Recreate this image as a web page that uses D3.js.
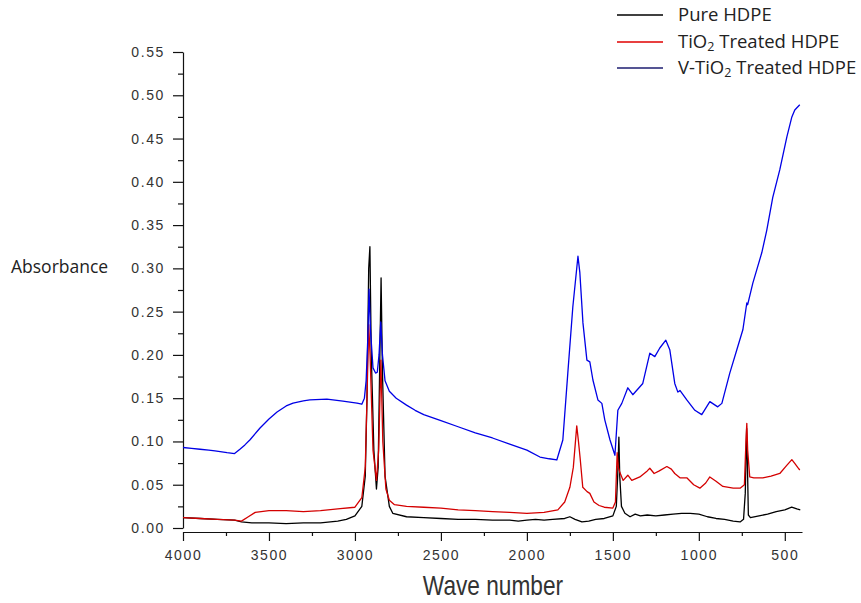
<!DOCTYPE html>
<html>
<head>
<meta charset="utf-8">
<script src="https://cdn.jsdelivr.net/npm/d3@7"></script>
<style>
  html, body { margin: 0; padding: 0; background: #fff; }
  svg { display: block; }
</style>
</head>
<body>
<svg id="chart" width="861" height="603"></svg>
<script>
// ---------------- DATA ----------------
const seriesNames = ["Pure HDPE", "TiO2 Treated HDPE", "V-TiO2 Treated HDPE"];

const pureWave = [4000,3900,3800,3700,3660,3600,3500,3400,3300,3200,3100,3050,3000,2960,2940,2930,2920,2913,2905,2890,2875,2865,2855,2848,2840,2825,2800,2780,2700,2600,2500,2400,2300,2200,2100,2050,2000,1950,1900,1850,1780,1750,1720,1680,1640,1600,1550,1500,1480,1472,1465,1460,1450,1430,1400,1370,1340,1300,1250,1200,1150,1100,1050,1000,950,900,850,800,760,740,730,722,718,712,700,650,600,550,500,460,430,410];
const pureAbs  = [0.012,0.011,0.010,0.009,0.007,0.006,0.006,0.005,0.006,0.006,0.008,0.010,0.014,0.025,0.060,0.150,0.300,0.325,0.200,0.090,0.045,0.070,0.200,0.289,0.180,0.060,0.025,0.017,0.013,0.012,0.011,0.010,0.010,0.009,0.009,0.008,0.009,0.010,0.009,0.010,0.011,0.013,0.010,0.007,0.008,0.010,0.011,0.014,0.025,0.060,0.105,0.060,0.025,0.017,0.013,0.016,0.014,0.015,0.014,0.015,0.016,0.017,0.017,0.016,0.013,0.011,0.010,0.008,0.007,0.010,0.040,0.115,0.080,0.015,0.012,0.014,0.016,0.019,0.021,0.024,0.022,0.021];

const tio2Wave = [4000,3900,3800,3700,3660,3620,3580,3500,3400,3300,3200,3100,3000,2960,2940,2930,2920,2912,2895,2875,2862,2849,2838,2820,2800,2770,2700,2600,2500,2400,2300,2200,2100,2000,1900,1820,1780,1750,1730,1710,1700,1690,1675,1650,1634,1610,1580,1550,1500,1485,1475,1468,1459,1440,1413,1390,1343,1300,1285,1260,1230,1186,1160,1140,1110,1070,1030,994,960,936,900,860,800,760,735,726,721,716,704,680,628,580,529,490,459,440,425,413];
const tio2Abs  = [0.012,0.011,0.010,0.009,0.008,0.013,0.018,0.020,0.020,0.019,0.020,0.022,0.024,0.035,0.070,0.150,0.235,0.200,0.090,0.055,0.090,0.194,0.100,0.045,0.032,0.027,0.025,0.024,0.023,0.021,0.020,0.019,0.018,0.017,0.018,0.021,0.030,0.047,0.070,0.118,0.100,0.080,0.047,0.042,0.040,0.030,0.026,0.024,0.023,0.030,0.087,0.070,0.064,0.055,0.061,0.055,0.059,0.066,0.069,0.063,0.066,0.071,0.068,0.063,0.058,0.058,0.050,0.046,0.052,0.059,0.054,0.048,0.046,0.046,0.050,0.100,0.121,0.090,0.059,0.058,0.058,0.060,0.063,0.072,0.079,0.074,0.070,0.067];

const vWave = [4000,3950,3901,3850,3814,3744,3700,3669,3640,3610,3552,3500,3453,3400,3360,3300,3262,3163,3070,2988,2960,2945,2935,2925,2918,2910,2895,2880,2870,2860,2850,2840,2825,2800,2760,2700,2650,2600,2500,2400,2300,2200,2100,2000,1924,1870,1826,1791,1762,1733,1703,1692,1674,1651,1634,1616,1587,1564,1547,1517,1488,1471,1448,1413,1384,1326,1285,1256,1227,1192,1169,1140,1122,1110,1070,1023,983,936,890,866,820,779,744,721,716,686,634,605,570,529,488,459,442,413];
const vAbs  = [0.093,0.092,0.091,0.090,0.089,0.087,0.086,0.091,0.096,0.102,0.1155,0.126,0.134,0.141,0.1444,0.147,0.148,0.149,0.1467,0.1444,0.143,0.150,0.170,0.220,0.276,0.230,0.185,0.179,0.180,0.200,0.238,0.200,0.170,0.158,0.150,0.142,0.136,0.131,0.124,0.117,0.110,0.104,0.097,0.090,0.082,0.080,0.0786,0.1017,0.179,0.255,0.314,0.295,0.237,0.194,0.192,0.171,0.148,0.144,0.125,0.102,0.084,0.136,0.144,0.162,0.154,0.167,0.202,0.198,0.208,0.217,0.206,0.167,0.157,0.159,0.148,0.136,0.131,0.146,0.140,0.144,0.179,0.206,0.229,0.260,0.258,0.283,0.318,0.344,0.382,0.414,0.452,0.475,0.483,0.489];

const xTicks = [4000,3500,3000,2500,2000,1500,1000,500];
const xMinorTicks = [3750,3250,2750,2250,1750,1250,750];
const yTicks = [0,0.05,0.10,0.15,0.20,0.25,0.30,0.35,0.40,0.45,0.50,0.55];
const yMinorTicks = [0.025,0.075,0.125,0.175,0.225,0.275,0.325,0.375,0.425,0.475,0.525];

// ---------------- CHART ----------------
const svg = d3.select("#chart");
const x = d3.scaleLinear().domain([4000, 400]).range([183, 802]);
const y = d3.scaleLinear().domain([0, 0.55]).range([528, 52]);

const tickFont = "'Liberation Sans', Arial, sans-serif";

// Y axis
svg.append("g").attr("transform", "translate(183,0)")
  .call(d3.axisLeft(y).tickValues(yTicks).tickFormat(d3.format(".2f")).tickSize(10).tickSizeOuter(0).tickPadding(8));
svg.append("g").attr("transform", "translate(183,0)")
  .call(d3.axisLeft(y).tickValues(yMinorTicks).tickFormat("").tickSize(5).tickSizeOuter(0))
  .select(".domain").remove();

// X axis
svg.append("g").attr("transform", "translate(0,532)")
  .call(d3.axisBottom(x).tickValues(xTicks).tickFormat(d3.format("d")).tickSize(9).tickSizeOuter(0).tickPadding(9));
svg.append("g").attr("transform", "translate(0,532)")
  .call(d3.axisBottom(x).tickValues(xMinorTicks).tickFormat("").tickSize(4).tickSizeOuter(0))
  .select(".domain").remove();

svg.selectAll(".tick line, .domain").attr("stroke", "#111").attr("stroke-width", 1.2);
svg.selectAll(".tick text")
  .attr("font-family", tickFont).attr("font-size", 14).attr("fill", "#333")
  .style("letter-spacing", "1.6px");

// Lines
const colors = ["#000000", "#d40000", "#0000e6"];
const series = [
  { wave: pureWave, abs: pureAbs, color: colors[0] },
  { wave: tio2Wave, abs: tio2Abs, color: colors[1] },
  { wave: vWave, abs: vAbs, color: colors[2] }
];
const line = d3.line().x(d => x(d[0])).y(d => y(d[1]));
series.forEach(s => {
  const pts = s.wave.map((w, i) => [w, s.abs[i]]);
  svg.append("path").datum(pts)
    .attr("d", line)
    .attr("fill", "none")
    .attr("stroke", s.color)
    .attr("stroke-width", 1.3)
    .attr("stroke-linejoin", "round");
});

// Axis titles
svg.append("text")
  .attr("transform", "translate(493,595) scale(0.84,1)")
  .attr("text-anchor", "middle")
  .attr("font-family", "'Liberation Sans', Arial, sans-serif")
  .attr("font-size", 27).attr("fill", "#333")
  .text("Wave number");

svg.append("text").attr("x", 11).attr("y", 273)
  .attr("font-family", "'Open Sans', 'Noto Sans', sans-serif")
  .attr("font-size", 17.5).attr("fill", "#222")
  .text("Absorbance");

// Legend
const legendColors = ["#000000", "#e00000", "#1c1c70"];
const legendY = [15, 42, 68];
const legend = svg.append("g");
seriesNames.forEach((name, i) => {
  legend.append("line")
    .attr("x1", 617).attr("x2", 663)
    .attr("y1", legendY[i]).attr("y2", legendY[i])
    .attr("stroke", legendColors[i]).attr("stroke-width", 1.3);
  const t = legend.append("text")
    .attr("x", 678).attr("y", legendY[i] + 6)
    .attr("font-family", "'Open Sans', 'Noto Sans', sans-serif")
    .attr("font-size", 18.5).attr("fill", "#222");
  const m = name.match(/^(.*TiO)2(.*)$/);
  if (m) {
    t.append("tspan").text(m[1]);
    t.append("tspan").attr("font-size", 12.5).attr("dy", 3).text("2");
    t.append("tspan").attr("dy", -3).text(m[2]);
  } else {
    t.text(name);
  }
});
</script>
</body>
</html>
